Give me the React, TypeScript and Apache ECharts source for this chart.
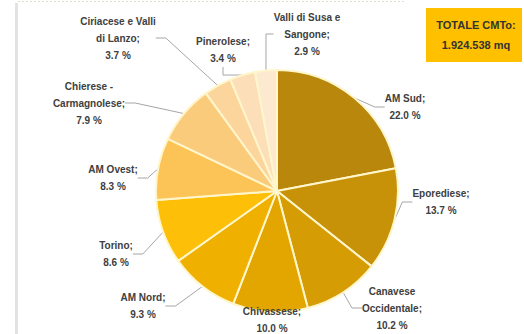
import React, { useEffect, useRef } from "react";
import * as echarts from "echarts";

const categories = [
  "AM Sud",
  "Eporediese",
  "Canavese Occidentale",
  "Chivassese",
  "AM Nord",
  "Torino",
  "AM Ovest",
  "Chierese - Carmagnolese",
  "Ciriacese e Valli di Lanzo",
  "Pinerolese",
  "Valli di Susa e Sangone",
];
const labelNames = [
  "AM Sud;",
  "Eporediese;",
  "Canavese\nOccidentale;",
  "Chivassese;",
  "AM Nord;",
  "Torino;",
  "AM Ovest;",
  "Chierese -\nCarmagnolese;",
  "Ciriacese e Valli\ndi Lanzo;",
  "Pinerolese;",
  "Valli di Susa e\nSangone;",
];
const shares = [22.0, 13.7, 10.2, 10.0, 9.3, 8.6, 8.3, 7.9, 3.7, 3.4, 2.9];
const totalLines = ["TOTALE CMTo:", "1.924.538 mq"];

const colors = [
  "#B8870B",
  "#C79108",
  "#D69C04",
  "#E3A600",
  "#EFB000",
  "#FEBF08",
  "#FCC457",
  "#FBCB7C",
  "#FBD59C",
  "#FCDFB8",
  "#FDE8D0",
];
// label centre positions (layout only)
const labelPos: [number, number][] = [
  [405, 107],
  [441, 202],
  [392, 308],
  [272, 320],
  [143, 306],
  [116, 254],
  [113, 178],
  [89, 103],
  [118, 38],
  [223, 50],
  [307, 34],
];

export default function App() {
  const ref = useRef<HTMLDivElement>(null);
  useEffect(() => {
    if (!ref.current) return;
    const chart = echarts.init(ref.current, undefined, { renderer: "svg" });
    const data = categories.map((name, i) => ({
      name,
      value: shares[i],
      itemStyle: { color: colors[i] },
      labelLine: { show: i !== 3 },
    }));
    chart.setOption({
      animation: false,
      backgroundColor: "#ffffff",
      graphic: [
        {
          type: "rect",
          shape: { x: 15, y: 3, width: 3, height: 331 },
          style: { fill: "#e2e2e2" },
          silent: true,
        },
        {
          type: "line",
          shape: { x1: 18, y1: 1.5, x2: 405, y2: 1.5 },
          style: { stroke: "#e4ddd2", lineWidth: 1, lineDash: [2, 2] },
          silent: true,
        },
        {
          type: "rect",
          shape: { x: 426, y: 8, width: 96, height: 54 },
          style: { fill: "#FFC000" },
          silent: true,
        },
        {
          type: "text",
          x: 476,
          y: 25,
          style: {
            text: totalLines[0],
            fill: "#333333",
            font: "bold 11px 'Liberation Sans', Arial, sans-serif",
            align: "center",
            verticalAlign: "middle",
          },
        },
        {
          type: "text",
          x: 476,
          y: 45,
          style: {
            text: totalLines[1],
            fill: "#333333",
            font: "bold 11px 'Liberation Sans', Arial, sans-serif",
            align: "center",
            verticalAlign: "middle",
          },
        },
      ],
      series: [
        {
          type: "pie",
          center: [277, 191],
          radius: 121,
          startAngle: 90,
          clockwise: true,
          avoidLabelOverlap: false,
          itemStyle: { borderColor: "#FFF6CC", borderWidth: 2 },
          label: {
            show: true,
            position: "outside",
            formatter: (p: any) => {
              const lines = (labelNames[p.dataIndex] + "\n" + Number(p.value).toFixed(1) + " %").split("\n");
              return lines.map((l) => "{c|" + l + "}").join("\n");
            },
            rich: {
              c: {
                align: "center",
                fontFamily: "'Liberation Sans', Arial, sans-serif",
                fontWeight: "bold",
                fontSize: 10,
                lineHeight: 17,
                color: "#404040",
              },
            },
            fontFamily: "'Liberation Sans', Arial, sans-serif",
            fontWeight: "bold",
            fontSize: 10,
            lineHeight: 17,
            color: "#404040",
            align: "center",
          },
          labelLine: {
            show: true,
            length: 10,
            length2: 10,
            lineStyle: { color: "#a6a6a6", width: 1 },
          },
          labelLayout: (p: any) => ({
            x: labelPos[p.dataIndex][0],
            y: labelPos[p.dataIndex][1],
            align: "center",
            verticalAlign: "middle",
          }),
          emphasis: { disabled: true },
          data,
        },
      ],
    });
    return () => chart.dispose();
  }, []);
  return (
    <div
      ref={ref}
      style={{ position: "absolute", left: 0, top: 0, width: 524, height: 334 }}
    />
  );
}
